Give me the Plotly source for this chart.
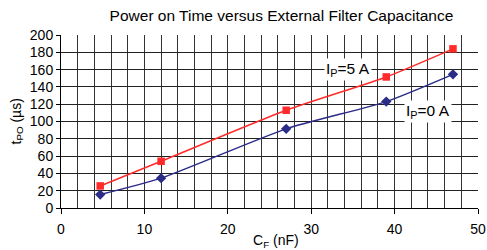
import plotly.graph_objects as go

cf_nf = [4.7, 12, 27, 39, 47]
tpo_5a = [25.5, 54, 113, 151.5, 184]
tpo_0a = [15.5, 34.5, 91.5, 123, 154.5]
x_ticks = [0, 10, 20, 30, 40, 50]
y_ticks = list(range(0, 201, 20))

FONT = "Liberation Sans, Arial, sans-serif"
W, H = 487, 250
ML, MR, MT, MB = 61, 9, 35, 42
PW, PH = W - ML - MR, H - MT - MB

fig = go.Figure()
fig.add_trace(go.Scatter(x=cf_nf, y=tpo_0a, mode="lines+markers",
                         line=dict(color="#2b2b88", width=1.5, shape="spline", smoothing=0.6),
                         marker=dict(symbol="diamond", size=8, color="#2b2b88"),
                         showlegend=False))
fig.add_trace(go.Scatter(x=cf_nf, y=tpo_5a, mode="lines+markers",
                         line=dict(color="#ff2a2a", width=1.5, shape="spline", smoothing=0.6),
                         marker=dict(symbol="square", size=7.5, color="#ff2a2a"),
                         showlegend=False))

fig.update_layout(
    width=W, height=H,
    margin=dict(l=ML, r=MR, t=MT, b=MB),
    paper_bgcolor="white", plot_bgcolor="white",
    font=dict(family=FONT, size=14, color="black"),
    title=dict(text="Power on Time versus External Filter Capacitance",
               x=0.578, xanchor="center", y=1 - 16 / H, yanchor="middle",
               font=dict(size=15.5, family=FONT, color="black")),
    xaxis=dict(range=[0, 50], tickvals=x_ticks, ticks="outside", ticklen=5,
               tickcolor="black", showgrid=True, gridcolor="#333", gridwidth=1,
               zeroline=False, showline=True, linecolor="black", linewidth=1,
               tickfont=dict(size=14), fixedrange=True, automargin=False,
               ticklabelstandoff=3,
               minor=dict(dtick=2, showgrid=True, gridcolor="#333", gridwidth=1, ticks="")),
    yaxis=dict(range=[0, 200], tickvals=y_ticks, ticks="outside", ticklen=4,
               tickcolor="black", showgrid=True, gridcolor="#222", gridwidth=1,
               zeroline=False, showline=True, linecolor="black", linewidth=1,
               tickfont=dict(size=14), fixedrange=True, automargin=False),
)

fig.add_annotation(x=(276 - ML) / PW, y=-(241 - (H - MB)) / PH,
                   xref="x domain", yref="y domain", xanchor="center", yanchor="middle",
                   text="C<sub>F</sub> (nF)", showarrow=False, font=dict(size=14))
fig.add_annotation(x=(16 - ML) / PW, y=0.5, xref="x domain", yref="y domain",
                   xanchor="center", yanchor="middle",
                   text="t<sub>PO</sub> (µs)", textangle=-90, showarrow=False,
                   font=dict(size=14))

fig.add_annotation(x=34.4, y=160, text="I<sub>P</sub>=5 A", showarrow=False,
                   bgcolor="white", font=dict(size=15.5), borderpad=1,
                   xanchor="center", yanchor="middle")
fig.add_annotation(x=44.0, y=111, text="I<sub>P</sub>=0 A", showarrow=False,
                   bgcolor="white", font=dict(size=15.5), borderpad=1,
                   xanchor="center", yanchor="middle")

fig.write_html("out.html", config={"displayModeBar": False},
               post_script="document.body.style.margin='0';")
